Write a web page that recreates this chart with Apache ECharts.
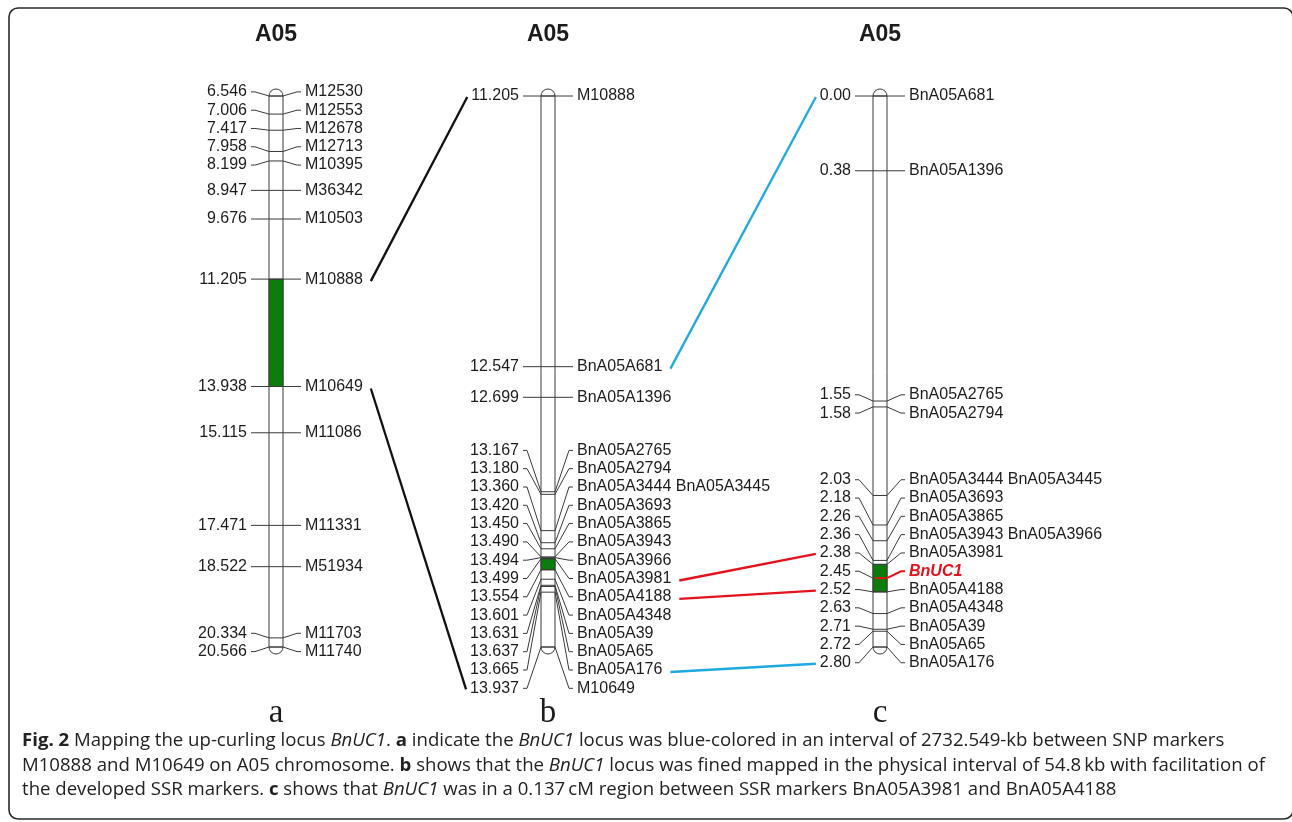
<!DOCTYPE html>
<html><head><meta charset="utf-8">
<script src="https://cdn.jsdelivr.net/npm/echarts@6/dist/echarts.min.js"></script>
<style>html,body{margin:0;padding:0;background:#fff}#chart{width:1292px;height:822px}</style>
</head><body><div id="chart"></div>
<script>
// ---------------- DATA ----------------
const mapTitles = ['A05', 'A05', 'A05'];
const panelLetters = ['a', 'b', 'c'];

// Map a (SNP markers, Mb)
const posA = [6.546, 7.006, 7.417, 7.958, 8.199, 8.947, 9.676, 11.205, 13.938, 15.115, 17.471, 18.522, 20.334, 20.566];
const valsA = ['6.546', '7.006', '7.417', '7.958', '8.199', '8.947', '9.676', '11.205', '13.938', '15.115', '17.471', '18.522', '20.334', '20.566'];
const namesA = ['M12530', 'M12553', 'M12678', 'M12713', 'M10395', 'M36342', 'M10503', 'M10888', 'M10649', 'M11086', 'M11331', 'M51934', 'M11703', 'M11740'];
const greenA = [11.205, 13.938];

// Map b (physical interval, Mb)
const posB = [11.205, 12.547, 12.699, 13.167, 13.180, 13.360, 13.420, 13.450, 13.490, 13.494, 13.499, 13.554, 13.601, 13.631, 13.637, 13.665, 13.937];
const valsB = ['11.205', '12.547', '12.699', '13.167', '13.180', '13.360', '13.420', '13.450', '13.490', '13.494', '13.499', '13.554', '13.601', '13.631', '13.637', '13.665', '13.937'];
const namesB = ['M10888', 'BnA05A681', 'BnA05A1396', 'BnA05A2765', 'BnA05A2794', 'BnA05A3444 BnA05A3445', 'BnA05A3693', 'BnA05A3865', 'BnA05A3943', 'BnA05A3966', 'BnA05A3981', 'BnA05A4188', 'BnA05A4348', 'BnA05A39', 'BnA05A65', 'BnA05A176', 'M10649'];
const greenB = [13.499, 13.554];

// Map c (genetic map, cM)
const posC = [0.00, 0.38, 1.55, 1.58, 2.03, 2.18, 2.26, 2.36, 2.38, 2.45, 2.52, 2.63, 2.71, 2.72, 2.80];
const valsC = ['0.00', '0.38', '1.55', '1.58', '2.03', '2.18', '2.26', '2.36', '2.38', '2.45', '2.52', '2.63', '2.71', '2.72', '2.80'];
const namesC = ['BnA05A681', 'BnA05A1396', 'BnA05A2765', 'BnA05A2794', 'BnA05A3444 BnA05A3445', 'BnA05A3693', 'BnA05A3865', 'BnA05A3943 BnA05A3966', 'BnA05A3981', 'BnUC1', 'BnA05A4188', 'BnA05A4348', 'BnA05A39', 'BnA05A65', 'BnA05A176'];
const greenC = [2.38, 2.52];

const qtlNames = ['BnUC1'];

// connections: [mapIndex, markerIndex] (from right-hand name -> to left-hand value)
const linkFrom = [[0, 7], [0, 8], [1, 1], [1, 15], [1, 10], [1, 11]];
const linkTo = [[1, 0], [1, 16], [2, 0], [2, 14], [2, 8], [2, 10]];

const captionLines = [
  '{b|Fig. 2} Mapping the up-curling locus {i|BnUC1}. {b|a} indicate the {i|BnUC1} locus was blue-colored in an interval of 2732.549-kb between SNP markers',
  'M10888 and M10649 on A05 chromosome. {b|b} shows that the {i|BnUC1} locus was fined mapped in the physical interval of 54.8\u2009kb with facilitation of',
  'the developed SSR markers. {b|c} shows that {i|BnUC1} was in a 0.137\u2009cM region between SSR markers BnA05A3981 and BnA05A4188'
];

// ---------------- STYLE / LAYOUT ----------------
const MAPS = [
  {pos: posA, vals: valsA, names: namesA, green: greenA},
  {pos: posB, vals: valsB, names: namesB, green: greenB},
  {pos: posC, vals: valsC, names: namesC, green: greenC}
];
const centers = [276, 548, 880];
const CHROM_W = 14, TOP = 96, HEIGHT = 551;
const GAP = 18.3;
const LINE = '#3a3a3a';
const TEXT = '#1c1c1c';
const RED = '#e3121b';
const BLUE = '#1fa9e1';
const GREEN = '#0a7d0a';
const FAMILY = '"Liberation Sans", Arial, Helvetica, sans-serif';
const LSIZE = 16;
const linkColors = ['#111', '#111', BLUE, BLUE, RED, RED];

const mctx = document.createElement('canvas').getContext('2d');
function textW(t, font) { mctx.font = font; return mctx.measureText(t).width; }

function spreadLabels(ys, gap) {
  let cl = ys.map((y, i) => ({s: i, e: i}));
  const place = c => (ys[c.s] + ys[c.e]) / 2 - (c.e - c.s) * gap / 2;
  let merged = true;
  while (merged) {
    merged = false;
    for (let j = 0; j < cl.length - 1; j++) {
      const a = cl[j], b = cl[j + 1];
      if (place(a) + (a.e - a.s + 1) * gap > place(b) + 1e-6) {
        cl.splice(j, 2, {s: a.s, e: b.e});
        merged = true;
        break;
      }
    }
  }
  const out = [];
  cl.forEach(c => { const t = place(c); for (let i = c.s; i <= c.e; i++) out[i] = t + (i - c.s) * gap; });
  return out;
}

function bodyRender(params, api) {
  const p0 = api.coord([0, api.value(1)]), p1 = api.coord([1, api.value(2)]);
  const x0 = p0[0], x1 = p1[0], y0 = p0[1], y1 = p1[1];
  const cx = (x0 + x1) / 2, r = (x1 - x0) / 2;
  const st = {stroke: LINE, lineWidth: 1, fill: null};
  return {type: 'group', children: [
    {type: 'rect', shape: {x: x0, y: y0, width: x1 - x0, height: y1 - y0}, style: {fill: '#fff', stroke: LINE, lineWidth: 1}},
    {type: 'arc', shape: {cx: cx, cy: y0, r: r, startAngle: Math.PI, endAngle: 2 * Math.PI, clockwise: true}, style: st},
    {type: 'arc', shape: {cx: cx, cy: y1, r: r, startAngle: 0, endAngle: Math.PI, clockwise: true}, style: st}
  ]};
}

function greenRender(params, api) {
  const p0 = api.coord([0, api.value(1)]), p1 = api.coord([1, api.value(2)]);
  return {type: 'rect', shape: {x: p0[0], y: p0[1], width: p1[0] - p0[0], height: p1[1] - p0[1]},
    style: {fill: GREEN, stroke: LINE, lineWidth: 1}};
}

function markerRender(k) {
  return function (params, api) {
    const m = MAPS[k];
    const i = params.dataIndex;
    const ys = m.pos.map(p => api.coord([0, p])[1]);
    const ls = spreadLabels(ys, GAP);
    const xl = api.coord([0, m.pos[0]])[0], xr = api.coord([1, m.pos[0]])[0];
    const my = ys[i], ly = ls[i];
    const isQ = qtlNames.indexOf(m.names[i]) >= 0;
    const col = isQ ? RED : LINE;
    const lw = isQ ? 2 : 1;
    return {type: 'group', children: [
      {type: 'line', shape: {x1: xl + (isQ ? 2 : 0), y1: my, x2: xr, y2: my}, style: {stroke: col, lineWidth: lw}},
      {type: 'polyline', shape: {points: [[xl, my], [xl - 14, ly], [xl - 18, ly]]}, style: {stroke: LINE, lineWidth: 1, fill: null}},
      {type: 'polyline', shape: {points: [[xr, my], [xr + 14, ly], [xr + 18, ly]]}, style: {stroke: col, lineWidth: lw, fill: null}},
      {type: 'text', x: xl - 22, y: ly, style: {text: m.vals[i], fill: TEXT, fontSize: LSIZE, fontFamily: FAMILY, align: 'right', verticalAlign: 'middle'}},
      {type: 'text', x: xr + 22, y: ly, style: {text: m.names[i], fill: isQ ? RED : TEXT, fontSize: LSIZE, fontFamily: FAMILY,
        fontWeight: isQ ? 'bold' : 'normal', fontStyle: isQ ? 'italic' : 'normal', align: 'left', verticalAlign: 'middle'}}
    ]};
  };
}

const grid = [], xAxis = [], yAxis = [], series = [];
MAPS.forEach((m, k) => {
  grid.push({left: centers[k] - CHROM_W / 2, width: CHROM_W, top: TOP, height: HEIGHT});
  xAxis.push({type: 'value', gridIndex: k, min: 0, max: 1, show: false});
  yAxis.push({type: 'value', gridIndex: k, min: m.pos[0], max: m.pos[m.pos.length - 1], inverse: true, show: false});
  series.push({type: 'custom', xAxisIndex: k, yAxisIndex: k, z: 1, silent: true,
    data: [[0, m.pos[0], m.pos[m.pos.length - 1]]], encode: {x: 0, y: [1, 2]}, renderItem: bodyRender});
  series.push({type: 'custom', xAxisIndex: k, yAxisIndex: k, z: 2, silent: true,
    data: [[0, m.green[0], m.green[1]]], encode: {x: 0, y: [1, 2]}, renderItem: greenRender});
  series.push({type: 'custom', xAxisIndex: k, yAxisIndex: k, z: 3, silent: true,
    data: m.pos.map(p => [0, p]), encode: {x: 0, y: 1}, renderItem: markerRender(k)});
});

const chart = echarts.init(document.getElementById('chart'), null, {renderer: 'canvas'});
chart.setOption({animation: false, backgroundColor: '#fff', grid, xAxis, yAxis, series});

// ---------------- connectors & decorations ----------------
const LFONT = LSIZE + 'px ' + FAMILY;
function layoutOf(k) {
  const m = MAPS[k];
  const ys = m.pos.map(p => chart.convertToPixel({gridIndex: k}, [0, p])[1]);
  const xl = chart.convertToPixel({gridIndex: k}, [0, m.pos[0]])[0];
  const xr = chart.convertToPixel({gridIndex: k}, [1, m.pos[0]])[0];
  return {ys, ls: spreadLabels(ys, GAP), xl, xr};
}
const L = MAPS.map((m, k) => layoutOf(k));

const graphic = [];
graphic.push({type: 'rect', shape: {x: 9, y: 8, width: 1284, height: 811, r: 9}, style: {fill: null, stroke: '#2a2a2a', lineWidth: 1.6}, silent: true});

linkFrom.forEach((f, n) => {
  const t = linkTo[n];
  const A = L[f[0]], B = L[t[0]];
  const x1 = A.xr + 22 + textW(MAPS[f[0]].names[f[1]], LFONT) + 8;
  const y1 = A.ls[f[1]] + 2;
  const x2 = B.xl - 22 - textW(MAPS[t[0]].vals[t[1]], LFONT) - 4;
  const y2 = B.ls[t[1]] + 1;
  graphic.push({type: 'line', shape: {x1, y1, x2, y2}, style: {stroke: linkColors[n], lineWidth: 2.3}, silent: true});
});

MAPS.forEach((m, k) => {
  const cx = (L[k].xl + L[k].xr) / 2;
  graphic.push({type: 'text', x: cx, y: 35, style: {text: mapTitles[k], fill: TEXT, fontSize: 23, fontWeight: 'bold', fontFamily: FAMILY, align: 'center', verticalAlign: 'middle'}, silent: true});
  graphic.push({type: 'text', x: cx, y: 713, style: {text: panelLetters[k], fill: TEXT, fontSize: 33, fontFamily: '"Liberation Serif", "Times New Roman", serif', align: 'center', verticalAlign: 'middle'}, silent: true});
});

const CAP_FAMILY = '"Open Sans", "Noto Sans", sans-serif';
const CAP_SIZE = 18.6;
captionLines.forEach((line, n) => {
  graphic.push({type: 'text', x: 22, y: 741 + n * 24.5, silent: true,
    style: {text: line, fill: '#222', fontSize: CAP_SIZE, fontFamily: CAP_FAMILY, align: 'left', verticalAlign: 'middle',
      rich: {
        b: {fontWeight: 'bold', fontSize: CAP_SIZE, fontFamily: CAP_FAMILY, fill: '#222'},
        i: {fontStyle: 'italic', fontSize: CAP_SIZE, fontFamily: CAP_FAMILY, fill: '#222'}
      }}});
});

chart.setOption({graphic});
</script>
</body></html>
